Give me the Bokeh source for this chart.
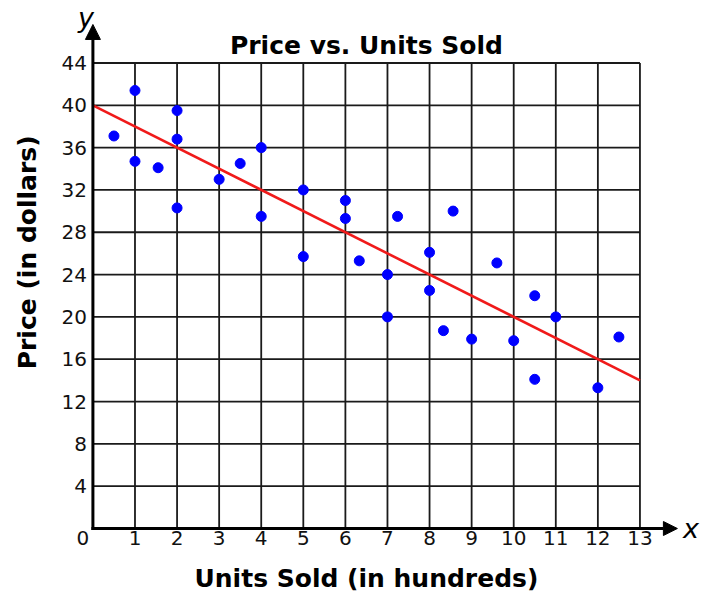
import math
from bokeh.plotting import figure
from bokeh.models import Range1d, Arrow, NormalHead
from bokeh.core.properties import value
from bokeh.embed import file_html
from bokeh.resources import INLINE

# ---------------- data ----------------
title_text = "Price vs. Units Sold"
x_title = "Units Sold (in hundreds)"
y_title = "Price (in dollars)"

units_sold = [0.5, 1, 1, 1.55, 2, 2, 2, 3, 3.5, 4, 4, 5, 5, 6, 6, 6.33,
              7, 7, 7.24, 8, 8, 8.33, 8.56, 9, 9.6, 10, 10.5, 10.5, 11, 12, 12.5]
price = [37.1, 41.4, 34.7, 34.1, 39.5, 36.8, 30.3, 33.0, 34.5, 36.0, 29.5,
         32.0, 25.7, 31.0, 29.3, 25.3, 24.0, 20.0, 29.5, 26.1, 22.5, 18.7,
         30.0, 17.9, 25.1, 17.75, 22.0, 14.1, 20.0, 13.3, 18.1]

fit_x = [0, 13]
fit_y = [40, 14]

x_ticks = list(range(0, 14))
y_ticks = list(range(4, 45, 4))
x_tick_labels = [str(t) for t in x_ticks]
y_tick_labels = [str(t) for t in y_ticks]

# ---------------- figure ----------------
FONT = value("DejaVu Sans")
xmax = x_ticks[-1]
ymax = y_ticks[-1]

p = figure(width=704, height=596, output_backend="svg", toolbar_location=None,
           x_axis_type=None, y_axis_type=None, min_border=0,
           x_range=Range1d(-2.196, 14.534), y_range=Range1d(-6.427, 49.905))
p.outline_line_color = None
p.background_fill_color = "white"

# grid lines (only inside the 0..13 x 0..44 box)
gx = x_ticks[1:]
p.segment(x0=gx, x1=gx, y0=[0] * len(gx), y1=[ymax] * len(gx),
          line_color="#1a1a1a", line_width=1.8)
p.segment(x0=[0] * len(y_ticks), x1=[xmax] * len(y_ticks), y0=y_ticks, y1=y_ticks,
          line_color="#1a1a1a", line_width=1.8)

# regression line
p.line(fit_x, fit_y, line_color="#f01a1a", line_width=2.6)

# points
p.scatter(units_sold, price, size=10, fill_color="#0000ff", line_color="#0000ff")

# axes with arrows
p.add_layout(Arrow(end=NormalHead(size=14, fill_color="black", line_color="black", line_width=1),
                   x_start=0, y_start=0, x_end=13.89, y_end=0,
                   line_width=3, line_color="black", line_cap="square"))
p.add_layout(Arrow(end=NormalHead(size=15, fill_color="black", line_color="black", line_width=1),
                   x_start=0, y_start=0, x_end=0, y_end=47.64,
                   line_width=3, line_color="black", line_cap="square"))

# tick labels
p.text(x=[0] * len(y_ticks), y=y_ticks, text=y_tick_labels, text_font=FONT,
       text_font_size="20px", text_align="right", text_baseline="middle",
       x_offset=-6, text_color="#111111")
p.text(x=x_ticks[1:], y=[0] * (len(x_ticks) - 1), text=x_tick_labels[1:], text_font=FONT,
       text_font_size="20px", text_align="center", text_baseline="top",
       y_offset=2, text_color="#111111")
p.text(x=[x_ticks[0]], y=[0], text=[x_tick_labels[0]], text_font=FONT,
       text_font_size="20px", text_align="center", text_baseline="top",
       x_offset=-10, y_offset=2, text_color="#111111")

# titles
p.text(x=[xmax / 2], y=[ymax], text=[title_text], text_font=FONT, text_font_size="25px",
       text_font_style="bold", text_align="center", text_baseline="alphabetic",
       y_offset=-17, text_color="black")
p.text(x=[xmax / 2], y=[0], text=[x_title], text_font=FONT, text_font_size="25px",
       text_font_style="bold", text_align="center", text_baseline="alphabetic",
       y_offset=50, text_color="black")
p.text(x=[-1.55], y=[26.1], text=[y_title], text_font=FONT, text_font_size="25px",
       text_font_style="bold", text_align="center", text_baseline="middle",
       angle=math.pi / 2, text_color="black")

# axis letters
p.text(x=[0], y=[ymax], text=["y"], text_font=FONT, text_font_size="27px",
       text_font_style="italic", text_align="center", text_baseline="alphabetic",
       x_offset=-7, y_offset=-45, text_color="black")
p.text(x=[xmax], y=[0], text=["x"], text_font=FONT, text_font_size="27px",
       text_font_style="italic", text_align="left", text_baseline="alphabetic",
       x_offset=43, y_offset=0, text_color="black")

open("out.html", "w").write(file_html(p, INLINE))
